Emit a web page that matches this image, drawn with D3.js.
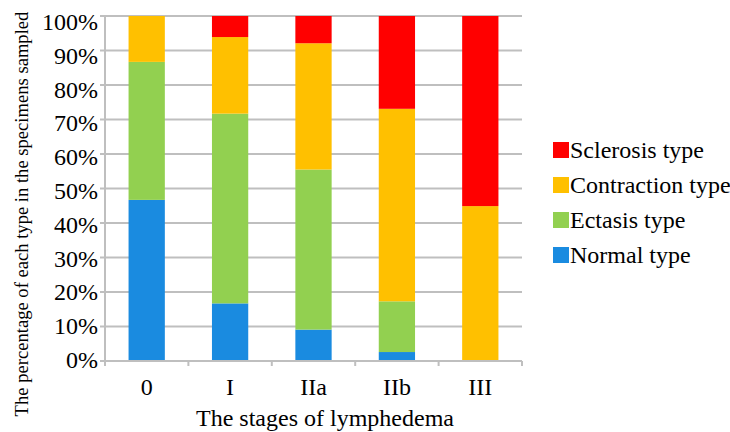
<!DOCTYPE html>
<html>
<head>
<meta charset="utf-8">
<script src="https://cdn.jsdelivr.net/npm/d3@7"></script>
<style>
  html, body { margin: 0; padding: 0; background: #fff; }
  svg { display: block; }
</style>
</head>
<body>
<svg id="chart" width="730" height="432"></svg>
<script>
// Lymphedema stages on the x axis
const stages = ["0", "I", "IIa", "IIb", "III"];

// Share (%) of each vessel type per stage, stacked bottom to top
const normalType      = [46.7, 16.7,  9.1,  2.6,  0.0];
const ectasisType     = [40.0, 55.0, 46.4, 14.7,  0.0];
const contractionType = [13.3, 22.2, 36.6, 55.8, 44.9];
const sclerosisType   = [ 0.0,  6.1,  7.9, 26.9, 55.1];

const seriesNames  = ["Normal type", "Ectasis type", "Contraction type", "Sclerosis type"];
const seriesColors = ["#1a8be0", "#92d050", "#ffc000", "#ff0000"];
const yTicks = [0, 10, 20, 30, 40, 50, 60, 70, 80, 90, 100];

const FONT = "Liberation Serif";

const rows = stages.map((s, i) => ({
  stage: s,
  "Normal type": normalType[i],
  "Ectasis type": ectasisType[i],
  "Contraction type": contractionType[i],
  "Sclerosis type": sclerosisType[i]
}));

const svg = d3.select("#chart");
const plot = { left: 105, right: 522, top: 16, bottom: 361 };

const x = d3.scaleBand().domain(stages).range([plot.left, plot.right]).paddingInner(0.565).paddingOuter(0.2825);
const xEdges = d3.scaleLinear().domain([0, stages.length]).range([plot.left, plot.right]);
const y = d3.scaleLinear().domain([0, 100]).range([plot.bottom, plot.top]);
// tick labels sit on a slightly tighter ladder than the gridlines
const yLabel = d3.scaleLinear().domain([0, 100]).range([360, 22]);

// all labels share one serif face
function label(sel, size) {
  return sel.style("font-family", FONT).style("font-size", size + "px").attr("fill", "#000");
}

// horizontal gridlines
svg.append("g")
  .selectAll("line")
  .data(yTicks.filter(t => t > 0))
  .join("line")
  .attr("x1", plot.left).attr("x2", plot.right)
  .attr("y1", d => y(d)).attr("y2", d => y(d))
  .attr("stroke", "#bfbfbf").attr("stroke-width", 2);

// stacked bars
const layers = d3.stack().keys(seriesNames)(rows);
svg.append("g")
  .selectAll("g")
  .data(layers)
  .join("g")
  .attr("fill", (d, i) => seriesColors[i])
  .selectAll("rect")
  .data(d => d)
  .join("rect")
  .attr("x", d => x(d.data.stage))
  .attr("width", x.bandwidth())
  .attr("y", d => y(d[1]))
  .attr("height", d => Math.max(0, y(d[0]) - y(d[1])));

// y axis: line, small ticks and percentage labels
const yAxis = svg.append("g");
yAxis.append("line")
  .attr("x1", plot.left).attr("x2", plot.left)
  .attr("y1", y(100)).attr("y2", y(0))
  .attr("stroke", "#bfbfbf").attr("stroke-width", 2);
yAxis.selectAll("line.tick")
  .data(yTicks)
  .join("line")
  .attr("class", "tick")
  .attr("x1", plot.left - 5).attr("x2", plot.left)
  .attr("y1", d => y(d)).attr("y2", d => y(d))
  .attr("stroke", "#bfbfbf").attr("stroke-width", 2);
label(yAxis.selectAll("text.ylab")
  .data(yTicks)
  .join("text")
  .attr("class", "ylab")
  .attr("x", 98)
  .attr("y", d => yLabel(d) + 8)
  .attr("text-anchor", "end"), 24)
  .text(d => d + "%");

// x axis: baseline, tick marks between categories and labels
const xAxis = svg.append("g");
xAxis.append("line")
  .attr("x1", plot.left).attr("x2", plot.right)
  .attr("y1", y(0)).attr("y2", y(0))
  .attr("stroke", "#bfbfbf").attr("stroke-width", 2);
xAxis.selectAll("line.tick")
  .data(d3.range(stages.length + 1))
  .join("line")
  .attr("class", "tick")
  .attr("x1", d => xEdges(d)).attr("x2", d => xEdges(d))
  .attr("y1", y(0)).attr("y2", y(0) + 5)
  .attr("stroke", "#bfbfbf").attr("stroke-width", 2);
label(xAxis.selectAll("text.xlab")
  .data(stages)
  .join("text")
  .attr("class", "xlab")
  .attr("x", d => x(d) + x.bandwidth() / 2)
  .attr("y", 395)
  .attr("text-anchor", "middle"), 24)
  .text(d => d);

// axis titles
label(svg.append("text")
  .attr("x", 325).attr("y", 426)
  .attr("text-anchor", "middle"), 24)
  .text("The stages of lymphedema");

label(svg.append("text")
  .attr("transform", "translate(28,214) rotate(-90)")
  .attr("text-anchor", "middle"), 18.6)
  .text("The percentage of each type in the specimens sampled");

// legend, top entry is the top of the stack
const legendItems = seriesNames.map((n, i) => ({ name: n, color: seriesColors[i] })).reverse();
const legend = svg.append("g");
legend.selectAll("rect")
  .data(legendItems)
  .join("rect")
  .attr("x", 553)
  .attr("y", (d, i) => 142 + i * 35)
  .attr("width", 16).attr("height", 16)
  .attr("fill", d => d.color);
label(legend.selectAll("text")
  .data(legendItems)
  .join("text")
  .attr("x", 570)
  .attr("y", (d, i) => 158 + i * 35), 24)
  .text(d => d.name);
</script>
</body>
</html>
